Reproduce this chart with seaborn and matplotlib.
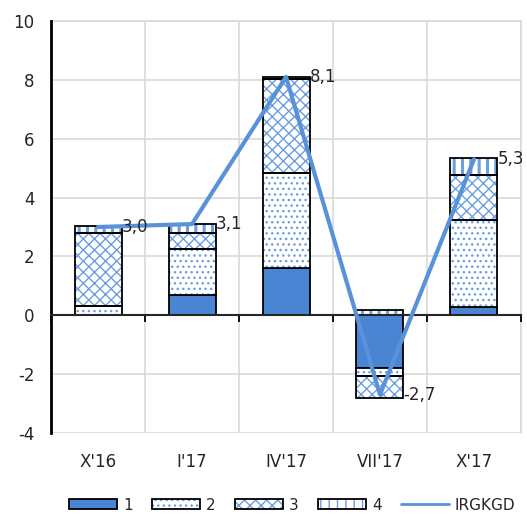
import numpy as np
import seaborn as sns
import matplotlib.pyplot as plt
from matplotlib.patches import Patch
from matplotlib.lines import Line2D

# data
periods = ["X'16", "I'17", "IV'17", "VII'17", "X'17"]
comp1 = [0.0, 0.70, 1.59, -1.79, 0.28]
comp2 = [0.30, 1.56, 3.25, -0.28, 2.95]
comp3 = [2.48, 0.53, 3.19, -0.73, 1.53]
comp4 = [0.24, 0.32, 0.05, 0.17, 0.57]
irgkgd = [3.0, 3.1, 8.1, -2.7, 5.3]

bar_blue = "#4A85D3"
hatch_blue = "#6C9EE0"
line_blue = "#5A92DA"

sns.set_style("white")
plt.rcParams["font.family"] = ["DejaVu Sans"]
plt.rcParams["axes.unicode_minus"] = False
plt.rcParams["hatch.linewidth"] = 1.0

fig = plt.figure(figsize=(5.27, 5.17), dpi=100)
ax = fig.add_axes([0.0968, 0.1625, 0.8918, 0.7969])
ax.set_axisbelow(True)

x = np.arange(len(periods))
w = 0.5

# series 1: solid bars
sns.barplot(x=periods, y=comp1, color=bar_blue, saturation=1, width=w,
            edgecolor="black", linewidth=1.3, ax=ax, zorder=1)

# stacked hatched series (positives go up, negatives go down)
pos_bottom = np.clip(np.array(comp1), 0, None)
neg_bottom = np.clip(np.array(comp1), None, 0)
hatches = ["...", "xxx", "||"]
hatch_lw = [1.0, 1.0, 2.2]
for vals, hatch, hlw in zip([comp2, comp3, comp4], hatches, hatch_lw):
    vals = np.array(vals)
    bottom = np.where(vals >= 0, pos_bottom, neg_bottom)
    with plt.rc_context({"hatch.linewidth": hlw}):
        ax.bar(x, vals, bottom=bottom, width=w, facecolor="white",
               edgecolor=hatch_blue, linewidth=0, hatch=hatch, zorder=1)
    ax.bar(x, vals, bottom=bottom, width=w, fill=False,
           edgecolor="black", linewidth=1.3, zorder=1.1)
    pos_bottom = pos_bottom + np.clip(vals, 0, None)
    neg_bottom = neg_bottom + np.clip(vals, None, 0)

# IRGKGD line
sns.lineplot(x=x, y=irgkgd, color=line_blue, linewidth=3, ax=ax, zorder=3)
for xi, v in zip(x, irgkgd):
    ax.annotate(f"{v:.1f}".replace(".", ","), (xi, v), xytext=(17, 0),
                textcoords="offset points", ha="left", va="center",
                fontsize=12, zorder=4)

# axes styling
ax.set_ylim(-4, 10)
ax.set_xlim(-0.5, len(periods) - 0.5)
ax.set_yticks(range(-4, 11, 2))
ax.tick_params(axis="y", length=0, pad=12, labelsize=12)

bounds = np.arange(-0.5, len(periods), 1.0)
ax.set_xticks(bounds)
ax.set_xticklabels([])
ax.set_xticks(x, minor=True)
ax.set_xticklabels(periods, minor=True)
ax.spines["bottom"].set_position(("data", 0))
ax.spines["bottom"].set_linewidth(1.5)
ax.tick_params(axis="x", which="major", direction="out", length=5, width=1.3,
               color="black", bottom=True)
ax.tick_params(axis="x", which="minor", length=0, pad=99, labelsize=12)
ax.spines["left"].set_linewidth(2)
ax.spines["left"].set_color("black")
for s in ["top", "right"]:
    ax.spines[s].set_visible(False)
ax.grid(axis="y", color="#D9D9D9", linewidth=1.2)
ax.grid(axis="x", which="major", color="#D9D9D9", linewidth=1.2)
ax.axhline(10, color="#D9D9D9", linewidth=1.2, zorder=0.5, clip_on=False)
ax.axvline(len(periods) - 0.5, color="#D9D9D9", linewidth=1.2, zorder=0.5,
           clip_on=False)
ax.set_xlabel("")
ax.set_ylabel("")

# legend
handles = [
    Patch(facecolor=bar_blue, edgecolor="black", linewidth=1.3),
]
for hatch, hlw in zip(hatches, hatch_lw):
    with plt.rc_context({"hatch.linewidth": hlw}):
        hp = Patch(facecolor="white", edgecolor=hatch_blue, linewidth=0, hatch=hatch)
    handles.append((hp, Patch(fill=False, edgecolor="black", linewidth=1.3)))
handles.append(Line2D([0], [0], color=line_blue, linewidth=2))
fig.legend(handles, ["1", "2", "3", "4", "IRGKGD"], loc="center",
           bbox_to_anchor=(0.555, 0.023), ncol=5, frameon=False, fontsize=11,
           handlelength=3.1, handleheight=0.6, handletextpad=0.4,
           columnspacing=1.3)

fig.savefig("out.png", dpi=100)
